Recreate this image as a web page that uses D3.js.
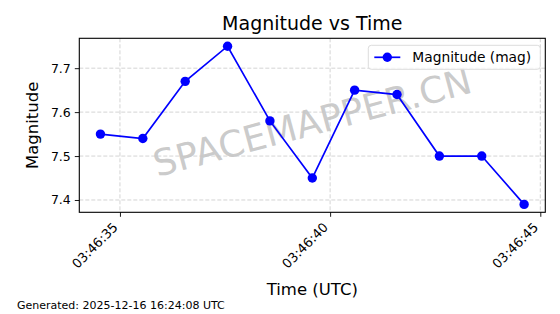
<!DOCTYPE html>
<html>
<head>
<meta charset="utf-8">
<script src="https://cdn.jsdelivr.net/npm/d3@7"></script>
<style>
  body { margin: 0; background: #fff; }
  svg { font-family: "DejaVu Sans", sans-serif; }
</style>
</head>
<body>
<svg id="chart" width="560" height="314"></svg>
<script>
// observation times (UTC) and magnitudes
var times = ["03:46:34.536", "03:46:35.544", "03:46:36.552", "03:46:37.560", "03:46:38.568",
             "03:46:39.576", "03:46:40.583", "03:46:41.591", "03:46:42.599", "03:46:43.607",
             "03:46:44.615"];
var magnitudes = [7.55, 7.54, 7.67, 7.75, 7.58, 7.45, 7.65, 7.64, 7.50, 7.50, 7.39];
var yTicks = [7.4, 7.5, 7.6, 7.7];
var xTickLabels = ["03:46:35", "03:46:40", "03:46:45"];

var parseT = d3.utcParse("%H:%M:%S.%L");
var parseTick = d3.utcParse("%H:%M:%S");

var data = times.map(function(t, i) { return {t: parseT(t), v: magnitudes[i]}; });

var svg = d3.select("#chart");
var margin = {top: 38.3, right: 14.7, bottom: 101.7, left: 79.3},
    width = 560 - margin.left - margin.right,
    height = 314 - margin.top - margin.bottom,
    g = svg.append("g").attr("transform", "translate(" + margin.left + "," + margin.top + ")");

// matplotlib style 5% margins
var tExt = d3.extent(data, function(d) { return +d.t; });
var tPad = (tExt[1] - tExt[0]) * 0.05;
var vExt = d3.extent(magnitudes);
var vPad = (vExt[1] - vExt[0]) * 0.05;

var x = d3.scaleUtc()
    .domain([new Date(tExt[0] - tPad), new Date(tExt[1] + tPad)])
    .range([0, width]);

var y = d3.scaleLinear()
    .domain([vExt[0] - vPad, vExt[1] + vPad])
    .range([height, 0]);

var xTicks = xTickLabels.map(function(s) { return parseTick(s); });

// grid
g.append("g")
    .selectAll("line")
    .data(yTicks)
    .enter().append("line")
      .attr("x1", 0).attr("x2", width)
      .attr("y1", function(d) { return y(d); })
      .attr("y2", function(d) { return y(d); })
      .attr("stroke", "#cfcfcf").attr("stroke-width", 0.9)
      .attr("stroke-dasharray", "4,2");

g.append("g")
    .selectAll("line")
    .data(xTicks)
    .enter().append("line")
      .attr("x1", function(d) { return x(d); })
      .attr("x2", function(d) { return x(d); })
      .attr("y1", 0).attr("y2", height)
      .attr("stroke", "#cfcfcf").attr("stroke-width", 0.9)
      .attr("stroke-dasharray", "4,2");

// watermark
g.append("text")
    .attr("transform", "translate(" + (width / 2) + "," + (height / 2 - 3) + ") rotate(-15)")
    .attr("text-anchor", "middle")
    .attr("dy", "0.35em")
    .attr("fill", "#c4c4c4")
    .attr("fill-opacity", 0.9)
    .style("font-size", "36.5px")
    .text("SPACEMAPPER.CN");

// line + markers
var line = d3.line()
    .x(function(d) { return x(d.t); })
    .y(function(d) { return y(d.v); });

g.append("path")
    .datum(data)
    .attr("fill", "none")
    .attr("stroke", "#0000ff")
    .attr("stroke-width", 1.7)
    .attr("d", line);

g.append("g")
    .selectAll("circle")
    .data(data)
    .enter().append("circle")
      .attr("cx", function(d) { return x(d.t); })
      .attr("cy", function(d) { return y(d.v); })
      .attr("r", 4.7)
      .attr("fill", "#0000ff");

// axes
var yAxis = g.append("g")
    .call(d3.axisLeft(y).tickValues(yTicks).tickFormat(d3.format(".1f")).tickSizeOuter(0).tickSize(4.5).tickPadding(4));
yAxis.select(".domain").remove();
yAxis.selectAll(".tick line").attr("stroke", "#000").attr("stroke-width", 0.9);
yAxis.selectAll(".tick text")
    .style("font-size", "12.5px")
    .style("font-family", "DejaVu Sans")
    .attr("fill", "#000");

var xAxis = g.append("g")
    .attr("transform", "translate(0," + height + ")")
    .call(d3.axisBottom(x).tickValues(xTicks).tickFormat(d3.utcFormat("%H:%M:%S")).tickSizeOuter(0).tickSize(4.5));
xAxis.select(".domain").remove();
xAxis.selectAll(".tick line").attr("stroke", "#000").attr("stroke-width", 0.9);
xAxis.selectAll(".tick text")
    .style("font-size", "13px")
    .style("font-family", "DejaVu Sans")
    .attr("fill", "#000")
    .attr("text-anchor", "end")
    .attr("x", 0).attr("y", 0)
    .attr("dy", "0.35em")
    .attr("transform", "translate(-5,12.5) rotate(-45)");

// frame
g.append("rect")
    .attr("width", width).attr("height", height)
    .attr("fill", "none").attr("stroke", "#000").attr("stroke-width", 1.1);

// legend
var lg = g.append("g").attr("transform", "translate(" + (width - 177) + ",7)");
lg.append("rect")
    .attr("width", 172).attr("height", 24).attr("rx", 3)
    .attr("fill", "#fff").attr("fill-opacity", 0.8)
    .attr("stroke", "#dcdcdc");
lg.append("line")
    .attr("x1", 6).attr("x2", 32).attr("y1", 12).attr("y2", 12)
    .attr("stroke", "#0000ff").attr("stroke-width", 1.7);
lg.append("circle").attr("cx", 19).attr("cy", 12).attr("r", 4.7).attr("fill", "#0000ff");
lg.append("text")
    .attr("x", 44).attr("y", 12).attr("dy", "0.35em")
    .style("font-size", "13.8px")
    .text("Magnitude (mag)");

// titles
svg.append("text")
    .attr("x", margin.left + width / 2).attr("y", 30)
    .attr("text-anchor", "middle")
    .style("font-size", "19px")
    .text("Magnitude vs Time");

svg.append("text")
    .attr("transform", "translate(38," + (margin.top + height / 2) + ") rotate(-90)")
    .attr("text-anchor", "middle")
    .style("font-size", "16.5px")
    .text("Magnitude");

svg.append("text")
    .attr("x", margin.left + width / 2).attr("y", 295)
    .attr("text-anchor", "middle")
    .style("font-size", "16.5px")
    .text("Time (UTC)");

svg.append("text")
    .attr("x", 17).attr("y", 309)
    .style("font-size", "11px")
    .text("Generated: 2025-12-16 16:24:08 UTC");
</script>
</body>
</html>
